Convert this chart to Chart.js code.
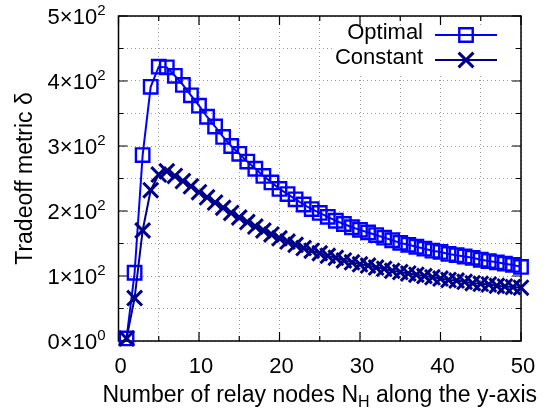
<!DOCTYPE html>
<html>
<head>
<meta charset="utf-8">
<title>Tradeoff metric</title>
<script src="https://cdn.jsdelivr.net/npm/chart.js@4.4.0/dist/chart.umd.min.js"></script>
<style>
  html, body { margin: 0; padding: 0; background: #fff; }
  #wrap { width: 546px; height: 413px; }
</style>
</head>
<body>
<div id="wrap"><canvas id="chart"></canvas></div>
<script>
"use strict";

// number of relay nodes N_H along the y-axis
const relayNodes = [1, 2, 3, 4, 5, 6, 7, 8, 9, 10,
    11, 12, 13, 14, 15, 16, 17, 18, 19, 20,
    21, 22, 23, 24, 25, 26, 27, 28, 29, 30,
    31, 32, 33, 34, 35, 36, 37, 38, 39, 40,
    41, 42, 43, 44, 45, 46, 47, 48, 49, 50];

const optimalDelta = [4, 105, 286, 391, 422, 421, 408, 394, 378, 362,
    345, 330, 314, 300, 288, 276, 265, 254, 244, 234,
    226, 218, 210, 203, 197, 191, 185, 180, 175, 171,
    167, 163, 159, 155, 151, 148, 145, 142, 139, 137,
    134, 132, 130, 128, 125, 123, 121, 119, 117, 114];

const constantDelta = [4, 66, 170, 232, 256, 261, 254, 246, 238, 229,
    221, 213, 205, 197, 190, 183, 176, 170, 164, 158,
    153, 148, 143, 139, 135, 131, 128, 124, 121, 118,
    116, 113, 111, 108, 106, 104, 102, 100, 98, 96,
    94, 93, 91, 89, 88, 87, 85, 84, 83, 82];

const xTickValues = [0, 10, 20, 30, 40, 50];
const yTickValues = [0, 100, 200, 300, 400, 500];

const FONT = '"Liberation Sans", Arial, Helvetica, sans-serif';
const font = (size) => `${size}px ${FONT}`;

const points = (values) => relayNodes.map((n, i) => ({ x: n, y: values[i] }));

// 4x10^2 style labels: mantissa + exponent
function sciParts(value) {
    if (value === 0) return ['0\u00d710', '0'];
    const exp = Math.floor(Math.log10(value));
    return [`${Math.round(value / Math.pow(10, exp))}\u00d710`, String(exp)];
}

const gnuplotFrame = {
    id: 'gnuplotFrame',
    beforeDatasetsDraw(chart) {
        const { ctx, chartArea: a, scales: { x, y } } = chart;
        ctx.save();

        // opaque key area
        ctx.fillStyle = '#fff';
        ctx.fillRect(333, 25, 180, 48);

        ctx.strokeStyle = '#000';
        ctx.lineWidth = 1.5;
        ctx.strokeRect(a.left, a.top, a.width, a.height);

        // inward ticks on all four sides
        ctx.lineWidth = 1.2;
        ctx.beginPath();
        x.ticks.forEach(t => {
            const px = x.getPixelForValue(t.value);
            const len = t.value % 10 === 0 ? 9 : 5;
            ctx.moveTo(px, a.bottom); ctx.lineTo(px, a.bottom - len);
            ctx.moveTo(px, a.top); ctx.lineTo(px, a.top + len);
        });
        y.ticks.forEach(t => {
            const py = y.getPixelForValue(t.value);
            const len = t.value % 100 === 0 ? 9 : 5;
            ctx.moveTo(a.left, py); ctx.lineTo(a.left + len, py);
            ctx.moveTo(a.right, py); ctx.lineTo(a.right - len, py);
        });
        ctx.stroke();
        ctx.restore();
    },
    afterDraw(chart) {
        const { ctx, chartArea: a, scales: { x, y } } = chart;
        ctx.save();
        ctx.fillStyle = '#000';

        // x tick labels
        ctx.font = font(22);
        ctx.textAlign = 'center';
        ctx.textBaseline = 'alphabetic';
        xTickValues.forEach(v => ctx.fillText(String(v), x.getPixelForValue(v) + 2, a.bottom + 32));

        // y tick labels with superscript exponent
        ctx.textAlign = 'right';
        yTickValues.forEach(v => {
            const py = y.getPixelForValue(v);
            const [base, exp] = sciParts(v);
            const right = a.left - 13;
            ctx.font = font(15);
            const expW = ctx.measureText(exp).width;
            ctx.fillText(exp, right, py - 1);
            ctx.font = font(22);
            ctx.fillText(base, right - expW, py + 8);
        });

        // x title with subscript H
        const parts = [['Number of relay nodes N', 23, 0], ['H', 16, 5], [' along the y-axis', 23, 0]];
        let total = 0;
        parts.forEach(([t, s]) => { ctx.font = font(s); total += ctx.measureText(t).width; });
        let cx = (a.left + a.right) / 2 - total / 2;
        ctx.textAlign = 'left';
        parts.forEach(([t, s, dy]) => {
            ctx.font = font(s);
            ctx.fillText(t, cx, a.bottom + 61 + dy);
            cx += ctx.measureText(t).width;
        });

        // y title
        ctx.save();
        ctx.translate(32, (a.top + a.bottom) / 2);
        ctx.rotate(-Math.PI / 2);
        ctx.textAlign = 'center';
        ctx.font = font(23);
        ctx.fillText('Tradeoff metric \u03b4', 0, 0);
        ctx.restore();

        // key: text on the left, sample line with marker on the right
        chart.data.datasets.forEach((ds, i) => {
            const ly = 35 + i * 25;
            ctx.font = font(22);
            ctx.textAlign = 'right';
            ctx.fillStyle = '#000';
            ctx.fillText(ds.label, 423, ly + 4);
            ctx.strokeStyle = ds.borderColor;
            ctx.lineWidth = ds.borderWidth;
            ctx.beginPath();
            ctx.moveTo(435, ly); ctx.lineTo(497, ly);
            ctx.stroke();
            ctx.fillStyle = 'rgba(0,0,0,0)';
            ctx.lineWidth = ds.pointBorderWidth;
            Chart.helpers.drawPoint(ctx, {
                pointStyle: ds.pointStyle, rotation: 0,
                radius: ds.pointRadius, borderWidth: ds.pointBorderWidth
            }, 466, ly);
        });
        ctx.restore();
    }
};

new Chart(document.getElementById('chart'), {
    type: 'line',
    data: {
        datasets: [
            {
                label: 'Optimal',
                data: points(optimalDelta),
                borderColor: '#0000ff',
                backgroundColor: 'rgba(0,0,0,0)',
                borderWidth: 2,
                pointStyle: 'rect',
                pointRadius: 9.5,
                pointBorderWidth: 2.4,
                pointBorderColor: '#0000ff',
                pointBackgroundColor: 'rgba(0,0,0,0)',
                tension: 0,
                clip: false,
                order: 2
            },
            {
                label: 'Constant',
                data: points(constantDelta),
                borderColor: '#00008b',
                backgroundColor: 'rgba(0,0,0,0)',
                borderWidth: 2,
                pointStyle: 'crossRot',
                pointRadius: 10.5,
                pointBorderWidth: 3,
                pointBorderColor: '#00008b',
                tension: 0,
                clip: false,
                order: 1
            }
        ]
    },
    options: {
        responsive: true,
        maintainAspectRatio: false,
        animation: false,
        events: [],
        layout: { padding: { left: 118.5, right: 25, top: 16, bottom: 72 } },
        plugins: { legend: { display: false }, tooltip: { enabled: false } },
        scales: {
            x: {
                type: 'linear', min: 0, max: 50,
                ticks: { display: false, stepSize: 5 },
                grid: { color: '#9a9a9a', lineWidth: 1, drawTicks: false },
                border: { display: false, dash: [1, 3] }
            },
            y: {
                min: 0, max: 500,
                ticks: { display: false, stepSize: 50 },
                grid: { color: '#9a9a9a', lineWidth: 1, drawTicks: false },
                border: { display: false, dash: [1, 3] }
            }
        }
    },
    plugins: [gnuplotFrame]
});
</script>
</body>
</html>
